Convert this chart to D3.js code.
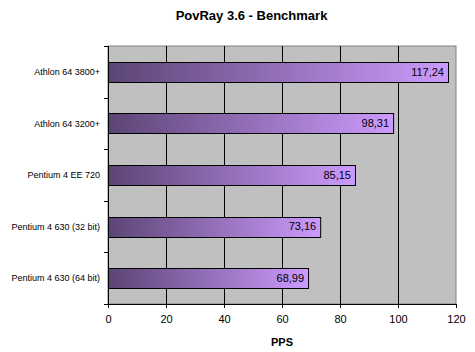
<!DOCTYPE html>
<html>
<head>
<meta charset="utf-8">
<script src="https://cdn.jsdelivr.net/npm/d3@7"></script>
<style>
  body { margin: 0; background: #fff; }
  text { font-family: "Liberation Sans", Arial, sans-serif; }
</style>
</head>
<body>
<svg id="chart"></svg>
<script>
/* Data */
const cpus = ["Athlon 64 3800+", "Athlon 64 3200+", "Pentium 4 EE 720", "Pentium 4 630 (32 bit)", "Pentium 4 630 (64 bit)"];
const pps = [117.24, 98.31, 85.15, 73.16, 68.99];
const xTicks = [0, 20, 40, 60, 80, 100, 120];

const data = cpus.map((c, i) => ({ cpu: c, value: pps[i] }));

/* Dimensions */
const W = 475, H = 352;
const margin = { top: 46, right: 19, bottom: 48, left: 108 };
const width = W - margin.left - margin.right;
const height = H - margin.top - margin.bottom;

const svg = d3.select("#chart").attr("width", W).attr("height", H);

/* Gradient for bars */
const grad = svg.append("defs").append("linearGradient")
    .attr("id", "barGrad")
    .attr("x1", "0%").attr("x2", "100%").attr("y1", "0%").attr("y2", "0%");
grad.append("stop").attr("offset", "0%").attr("stop-color", "#5b4575");
grad.append("stop").attr("offset", "100%").attr("stop-color", "#cc9afc");

/* Title */
svg.append("text")
    .attr("x", W / 2 + 14)
    .attr("y", 20)
    .attr("text-anchor", "middle")
    .style("font-size", "13px")
    .style("font-weight", "bold")
    .text("PovRay 3.6 - Benchmark");

const g = svg.append("g").attr("transform", `translate(${margin.left},${margin.top})`);

/* Scales */
const x = d3.scaleLinear().domain([0, 120]).range([0, width]);
const y = d3.scaleBand().domain(cpus).range([0, height]).paddingInner(0.61).paddingOuter(0.305);

/* Plot background */
g.append("rect")
    .attr("width", width).attr("height", height)
    .attr("fill", "#c0c0c0")
    .attr("stroke", "#808080");

/* Grid lines */
g.selectAll(".grid")
    .data(xTicks.slice(1, -1))
    .join("line")
      .attr("x1", d => Math.round(x(d)) + 0.5).attr("x2", d => Math.round(x(d)) + 0.5)
      .attr("y1", 0).attr("y2", height)
      .attr("stroke", "#000");

/* Bars */
g.selectAll(".bar")
    .data(data)
    .join("rect")
      .attr("x", 0.5)
      .attr("y", d => Math.round(y(d.cpu)) + 0.5)
      .attr("width", d => x(d.value))
      .attr("height", Math.round(y.bandwidth()))
      .attr("fill", "url(#barGrad)")
      .attr("stroke", "#000");

/* Value labels */
g.selectAll(".label")
    .data(data)
    .join("text")
      .attr("x", d => x(d.value) - 4)
      .attr("y", d => y(d.cpu) + y.bandwidth() / 2)
      .attr("dy", "0.35em")
      .attr("text-anchor", "end")
      .style("font-size", "11px")
      .text(d => d.value.toFixed(2).replace(".", ","));

/* Y axis: ticks between categories */
const yEdges = d3.range(cpus.length + 1).map(i => i * height / cpus.length);
g.append("line")
    .attr("x1", 0.5).attr("x2", 0.5).attr("y1", 0).attr("y2", height)
    .attr("stroke", "#000");
g.selectAll(".ytick")
    .data(yEdges)
    .join("line")
      .attr("x1", -4).attr("x2", 0)
      .attr("y1", d => Math.round(d) + 0.5).attr("y2", d => Math.round(d) + 0.5)
      .attr("stroke", "#000");
g.selectAll(".ylab")
    .data(cpus)
    .join("text")
      .attr("x", -8)
      .attr("y", d => y(d) + y.bandwidth() / 2)
      .attr("dy", "0.35em")
      .attr("text-anchor", "end")
      .style("font-size", "9px")
      .text(d => d);

/* X axis */
const xAxis = g.append("g")
    .attr("transform", `translate(0,${height})`)
    .call(d3.axisBottom(x).tickValues(xTicks).tickSize(4).tickSizeOuter(0).tickPadding(7));
xAxis.select(".domain").attr("stroke", "#000");
xAxis.selectAll("line").attr("stroke", "#000");
xAxis.selectAll("text").style("font-size", "11px").style("font-family", "Liberation Sans, Arial, sans-serif");

/* X axis title */
svg.append("text")
    .attr("x", margin.left + width / 2)
    .attr("y", 346)
    .attr("text-anchor", "middle")
    .style("font-size", "11px")
    .style("font-weight", "bold")
    .text("PPS");
</script>
</body>
</html>
